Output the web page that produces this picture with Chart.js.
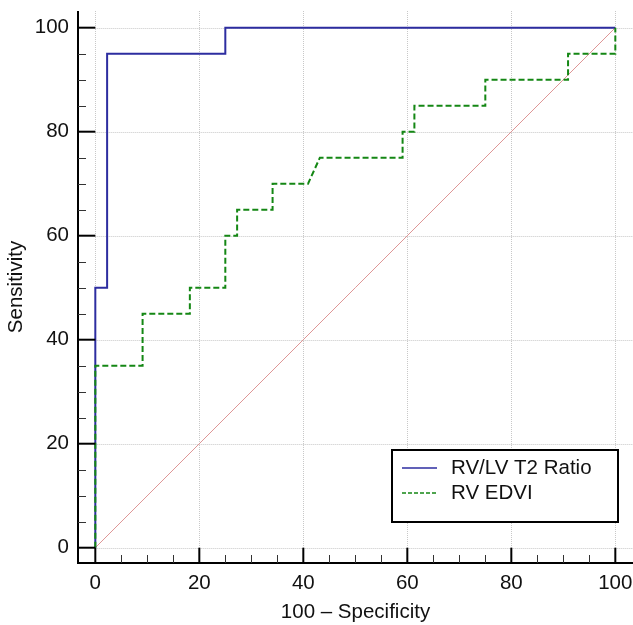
<!DOCTYPE html>
<html>
<head>
<meta charset="utf-8">
<script src="https://cdn.jsdelivr.net/npm/chart.js@4"></script>
<style>
  html, body { margin: 0; padding: 0; background: #fff; }
  canvas { display: block; }
</style>
</head>
<body>
<canvas id="myChart" width="633" height="625"></canvas>
<script>
const tickValues = [0, 20, 40, 60, 80, 100];
const minorValues = [5, 10, 15, 25, 30, 35, 45, 50, 55, 65, 70, 75, 85, 90, 95];

const seriesLabels = ['RV/LV T2 Ratio', 'RV EDVI'];

const t2X = [0, 0, 2.27, 2.27, 25, 25, 100];
const t2Y = [0, 50, 50, 95, 95, 100, 100];

const edviX = [0, 0, 9.09, 9.09, 18.18, 18.18, 25, 25, 27.27, 27.27, 34.09, 34.09,
  40.91, 43.18, 59.09, 59.09, 61.36, 61.36, 75, 75, 90.91, 90.91, 100, 100];
const edviY = [0, 35, 35, 45, 45, 50, 50, 60, 60, 65, 65, 70,
  70, 75, 75, 80, 80, 85, 85, 90, 90, 95, 95, 100];

const refX = [0, 100];
const refY = [0, 100];

const toPoints = (xs, ys) => xs.map((x, i) => ({ x: x, y: ys[i] }));

const blue = 'rgb(45, 45, 160)';
const green = 'rgb(20, 135, 20)';
const font = 'Liberation Sans, Arial, sans-serif';

// axes, ticks, grid and legend drawn like the original program
const frame = {
  id: 'frame',
  beforeDatasetsDraw(chart) {
    const ctx = chart.ctx;
    const xs = chart.scales.x, ys = chart.scales.y;
    const area = chart.chartArea;
    ctx.save();
    ctx.strokeStyle = '#c8c8c8';
    ctx.lineWidth = 1;
    ctx.setLineDash([1, 1]);
    tickValues.forEach(v => {
      const px = Math.round(xs.getPixelForValue(v)) + 0.5;
      ctx.beginPath();
      ctx.moveTo(px, area.top);
      ctx.lineTo(px, ys.getPixelForValue(0));
      ctx.stroke();
      const py = Math.round(ys.getPixelForValue(v)) + 0.5;
      ctx.beginPath();
      ctx.moveTo(xs.getPixelForValue(0), py);
      ctx.lineTo(area.right, py);
      ctx.stroke();
    });
    ctx.restore();
  },
  afterDraw(chart) {
    const ctx = chart.ctx;
    const xs = chart.scales.x, ys = chart.scales.y;
    const area = chart.chartArea;
    ctx.save();
    ctx.strokeStyle = '#000';
    ctx.lineWidth = 2;
    ctx.setLineDash([]);
    ctx.beginPath();
    ctx.moveTo(area.left, area.top);
    ctx.lineTo(area.left, area.bottom);
    ctx.lineTo(area.right, area.bottom);
    ctx.stroke();

    const x0 = xs.getPixelForValue(0);
    const y0 = ys.getPixelForValue(0);
    tickValues.forEach(v => {
      const py = ys.getPixelForValue(v);
      ctx.beginPath(); ctx.moveTo(area.left, py); ctx.lineTo(x0, py); ctx.stroke();
      const px = xs.getPixelForValue(v);
      ctx.beginPath(); ctx.moveTo(px, area.bottom); ctx.lineTo(px, y0); ctx.stroke();
    });
    ctx.lineWidth = 1;
    ctx.strokeStyle = '#333';
    minorValues.forEach(v => {
      const py = Math.round(ys.getPixelForValue(v)) + 0.5;
      ctx.beginPath(); ctx.moveTo(area.left, py); ctx.lineTo(area.left + 8, py); ctx.stroke();
      const px = Math.round(xs.getPixelForValue(v)) + 0.5;
      ctx.beginPath(); ctx.moveTo(px, area.bottom); ctx.lineTo(px, area.bottom - 8); ctx.stroke();
    });

    // legend box
    const lx = 392, ly = 450, lw = 226, lh = 72;
    ctx.fillStyle = '#fff';
    ctx.fillRect(lx, ly, lw, lh);
    ctx.strokeStyle = '#000';
    ctx.lineWidth = 2;
    ctx.strokeRect(lx, ly, lw, lh);
    const rows = [{ color: blue, dash: [] }, { color: green, dash: [4, 2] }];
    ctx.font = '20.5px ' + font;
    ctx.textBaseline = 'middle';
    ctx.textAlign = 'left';
    rows.forEach((r, i) => {
      const cy = ly + 18 + i * 25;
      ctx.strokeStyle = r.color;
      ctx.lineWidth = 1.5;
      ctx.setLineDash(r.dash);
      ctx.beginPath(); ctx.moveTo(lx + 10, cy); ctx.lineTo(lx + 45, cy); ctx.stroke();
      ctx.fillStyle = '#111';
      ctx.fillText(seriesLabels[i], lx + 59, cy);
    });
    ctx.restore();
  }
};

const config = {
  type: 'scatter',
  data: {
    datasets: [{
      label: seriesLabels[1],
      data: toPoints(edviX, edviY),
      showLine: true,
      borderColor: green,
      borderWidth: 2,
      borderDash: [6, 3],
      pointRadius: 0,
      order: 0
    }, {
      label: seriesLabels[0],
      data: toPoints(t2X, t2Y),
      showLine: true,
      borderColor: blue,
      borderWidth: 2,
      pointRadius: 0,
      order: 1
    }, {
      label: 'reference',
      data: toPoints(refX, refY),
      showLine: true,
      borderColor: 'rgb(222, 150, 150)',
      borderWidth: 1,
      pointRadius: 0,
      order: 2
    }]
  },
  options: {
    responsive: false,
    animation: false,
    devicePixelRatio: 1,
    layout: { padding: { top: 11, right: 0, bottom: 0, left: 0 } },
    plugins: { legend: { display: false }, tooltip: { enabled: false } },
    scales: {
      x: {
        type: 'linear',
        min: -3.33,
        max: 103.4,
        afterBuildTicks: s => { s.ticks = tickValues.map(v => ({ value: v })); },
        afterFit: s => { s.height = 62; s.paddingLeft = 0; s.paddingRight = 0; },
        grid: { display: false, drawTicks: false },
        border: { display: false },
        ticks: { padding: 8, maxRotation: 0, color: '#111', font: { family: font, size: 20.5 } },
        title: { display: true, text: '100 \u2013 Specificity', color: '#111',
          padding: { top: 0, bottom: 0 }, font: { family: font, size: 20.5 } }
      },
      y: {
        type: 'linear',
        min: -2.94,
        max: 103.21,
        afterBuildTicks: s => { s.ticks = tickValues.map(v => ({ value: v })); },
        afterFit: s => { s.width = 78; s.paddingTop = 0; s.paddingBottom = 0; },
        grid: { display: false, drawTicks: false },
        border: { display: false },
        ticks: { padding: 9, color: '#111', font: { family: font, size: 20.5 } },
        title: { display: true, text: 'Sensitivity', color: '#111',
          padding: { top: 4, bottom: 0 }, font: { family: font, size: 20.5 } }
      }
    }
  },
  plugins: [frame]
};

var myChart = new Chart(document.getElementById('myChart'), config);
</script>
</body>
</html>
